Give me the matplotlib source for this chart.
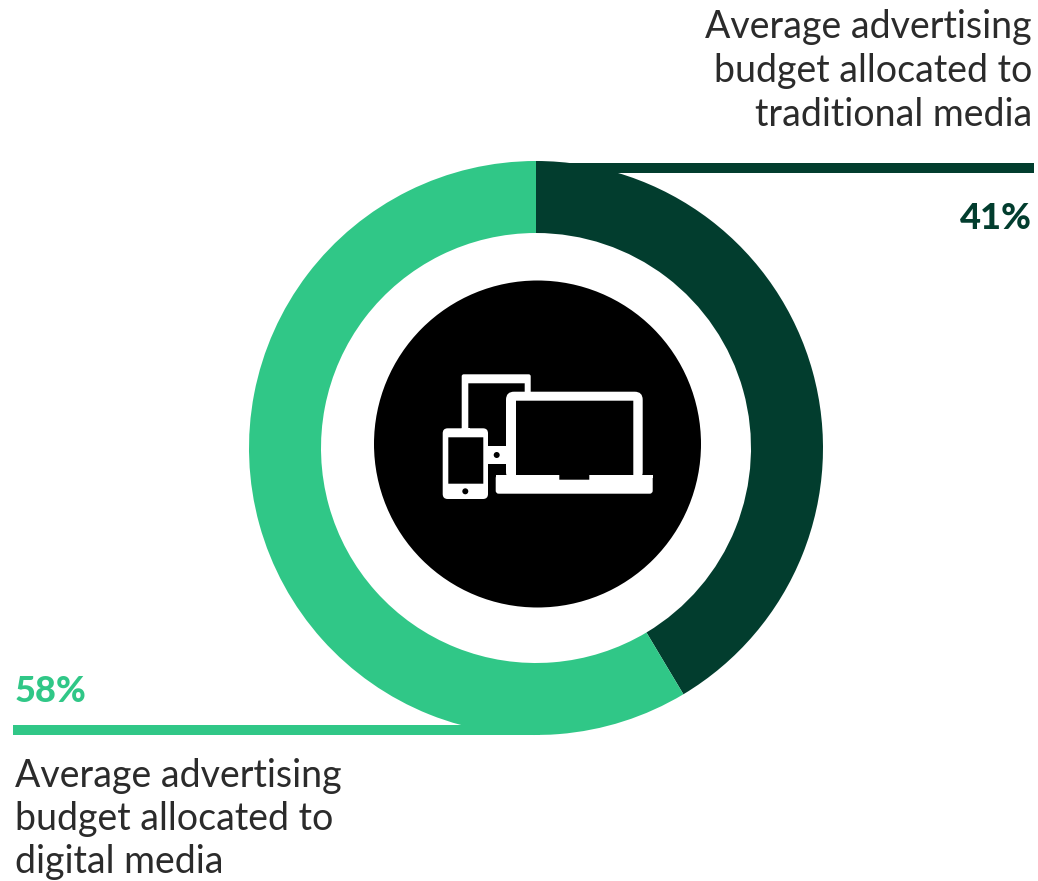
import matplotlib
matplotlib.use("Agg")
import matplotlib.pyplot as plt
from matplotlib.patches import Circle, FancyBboxPatch, Rectangle

# Budget shares shown on the ring
categories = ["traditional media", "digital media"]
shares = [41, 58]
share_labels = ["41%", "58%"]
captions = [
    "Average advertising\nbudget allocated to\ntraditional media",
    "Average advertising\nbudget allocated to\ndigital media",
]

DARK = "#023D2E"
GREEN = "#30C787"
W, H = 1038, 881
FONT = "Lato"
TEXT = "#2B2B2B"


def Y(y):
    """Convert a top-down pixel row to the upward axis."""
    return H - y


fig = plt.figure(figsize=(W / 100, H / 100), dpi=100)
ax = fig.add_axes([0, 0, 1, 1])

# Ring
ax.pie(shares, colors=[DARK, GREEN], startangle=90, counterclock=False,
       center=(536, Y(448)), radius=287,
       wedgeprops=dict(width=72, linewidth=0))
ax.set_xlim(0, W)
ax.set_ylim(0, H)
ax.set_aspect("equal")
ax.axis("off")

# Leader bars
ax.add_patch(Rectangle((536, Y(173)), 498, 10, fc=DARK, lw=0, zorder=3))
ax.add_patch(Rectangle((13, Y(735)), 527, 10.5, fc=GREEN, lw=0, zorder=3))

# Central disc
ax.add_patch(Circle((537.5, Y(444)), 163.5, fc="black", lw=0, zorder=4))


def box(x0, y0, x1, y1, fc="white", rad=0.0):
    """Rounded rectangle given by top-down pixel corners."""
    ax.add_patch(FancyBboxPatch((x0 + rad, Y(y1) + rad), x1 - x0 - 2 * rad, y1 - y0 - 2 * rad,
                                boxstyle=f"round,pad={rad},rounding_size={rad}",
                                fc=fc, ec="none", lw=0, zorder=5))


def dot(x, y, r=3.0):
    ax.add_patch(Circle((x, Y(y)), r, fc="black", lw=0, zorder=6))


# Tablet behind the other devices
box(461.7, 374.3, 530.7, 440, rad=2)
box(468.3, 383.3, 524.7, 440, fc="black")
box(488, 446, 510, 464)
box(484, 428, 506, 446, fc="black")
dot(496.7, 455)
box(461.7, 428, 470, 432, fc="white")

# Phone
box(442.7, 428.3, 488, 499, rad=5)
box(448.3, 437.3, 483.3, 483.7, fc="black")
dot(465.3, 491.3)

# Laptop
box(506, 391.7, 642.7, 480, rad=8)
box(516, 400.7, 633.3, 475, fc="black")
box(495.7, 475, 652.7, 493.7, rad=3)
ax.add_patch(Rectangle((495.7, Y(478)), 157, 3, fc="white", lw=0, zorder=5))
box(559.3, 475, 589.3, 479.7, fc="black")

# Captions, set line by line to hold the leading
for i, line in enumerate(captions[0].split("\n")):
    ax.text(1032, Y(38 + 44 * i), line, ha="right", va="baseline",
            family=FONT, fontsize=27, color=TEXT, zorder=7)
for i, line in enumerate(captions[1].split("\n")):
    ax.text(15, Y(787 + 43 * i), line, ha="left", va="baseline",
            family=FONT, fontsize=27, color=TEXT, zorder=7)

# Share labels
ax.text(1032, Y(229), share_labels[0], ha="right", va="baseline", family=FONT,
        fontweight="black", fontsize=26, color=DARK, zorder=7)
ax.text(15, Y(702), share_labels[1], ha="left", va="baseline", family=FONT,
        fontweight="black", fontsize=26, color=GREEN, zorder=7)

fig.savefig("out.png", dpi=100, facecolor="white")
